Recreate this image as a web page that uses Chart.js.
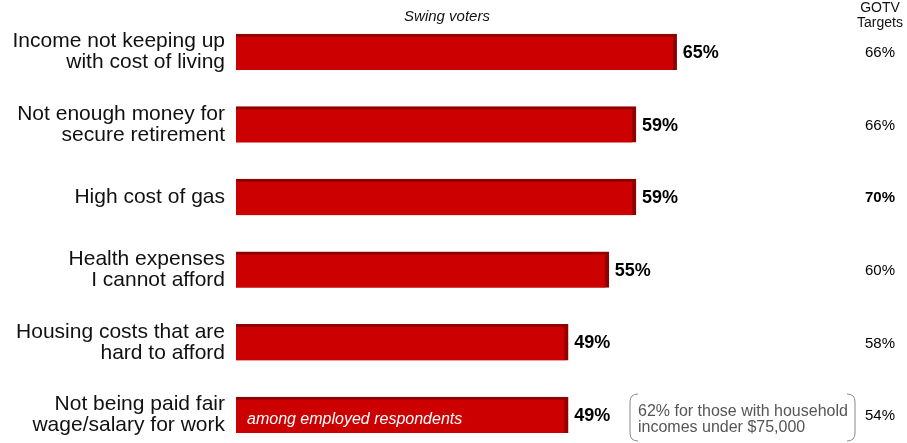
<!DOCTYPE html>
<html>
<head>
<meta charset="utf-8">
<script src="https://cdn.jsdelivr.net/npm/chart.js@4"></script>
<style>
  html, body { margin: 0; padding: 0; background: #fff; }
  #wrap { width: 907px; height: 443px; position: relative; }
</style>
</head>
<body>
<div id="wrap"><canvas id="worriesChart"></canvas></div>
<script>
// Dados do gráfico
const categories = [
  ['Income not keeping up', 'with cost of living'],
  ['Not enough money for', 'secure retirement'],
  'High cost of gas',
  ['Health expenses', 'I cannot afford'],
  ['Housing costs that are', 'hard to afford'],
  ['Not being paid fair', 'wage/salary for work']
];
const swingValues = [65, 59, 59, 55, 49, 49];
const gotvValues = [66, 66, 70, 60, 58, 54];
const gotvBold = [false, false, true, false, false, false];
const barNotes = ['', '', '', '', '', 'among employed respondents'];
const sideNote = ['62% for those with household', 'incomes under $75,000'];

const FONT = '"Liberation Sans", Arial, sans-serif';

// Textos extras: cabeçalhos, valores, coluna GOTV, nota lateral
const annotations = {
  id: 'annotations',
  afterDatasetsDraw(chart) {
    const ctx = chart.ctx;
    const bars = chart.getDatasetMeta(0).data;
    ctx.save();

    // cabeçalhos
    ctx.fillStyle = '#111';
    ctx.textAlign = 'center';
    ctx.textBaseline = 'middle';
    ctx.font = 'italic 15px ' + FONT;
    ctx.fillText('Swing voters', 447, 17);
    ctx.font = '14px ' + FONT;
    ctx.fillText('GOTV', 880, 8);
    ctx.fillText('Targets', 880, 23);

    bars.forEach((bar, i) => {
      // valor ao lado da barra
      ctx.textAlign = 'left';
      ctx.fillStyle = '#000';
      ctx.font = 'bold 18px ' + FONT;
      ctx.fillText(swingValues[i] + '%', bar.x + 6, bar.y + 1);

      // coluna GOTV
      ctx.textAlign = 'center';
      ctx.font = (gotvBold[i] ? 'bold ' : '') + '15px ' + FONT;
      ctx.fillText(gotvValues[i] + '%', 880, bar.y + 1);

      // nota dentro da barra
      if (barNotes[i]) {
        ctx.textAlign = 'left';
        ctx.fillStyle = '#fff';
        ctx.font = 'italic 16px ' + FONT;
        ctx.fillText(barNotes[i], bar.base + 11, bar.y + 5);
      }
    });

    // nota lateral com colchetes arredondados
    const last = bars[bars.length - 1];
    const top = last.y - 21, bottom = last.y + 26;
    const left = 630, right = 855, r = 8;
    ctx.strokeStyle = '#888';
    ctx.lineWidth = 1;
    ctx.beginPath();
    ctx.moveTo(left + r, top);
    ctx.quadraticCurveTo(left, top, left, top + r);
    ctx.lineTo(left, bottom - r);
    ctx.quadraticCurveTo(left, bottom, left + r, bottom);
    ctx.moveTo(right - r, top);
    ctx.quadraticCurveTo(right, top, right, top + r);
    ctx.lineTo(right, bottom - r);
    ctx.quadraticCurveTo(right, bottom, right - r, bottom);
    ctx.stroke();

    ctx.fillStyle = '#555';
    ctx.textAlign = 'left';
    ctx.font = '16px ' + FONT;
    ctx.fillText(sideNote[0], 638, last.y - 3);
    ctx.fillText(sideNote[1], 638, last.y + 13);

    ctx.restore();
  }
};

const ctx = document.getElementById('worriesChart').getContext('2d');
const worriesChart = new Chart(ctx, {
  type: 'bar',
  data: {
    labels: categories,
    datasets: [{
      data: swingValues,
      backgroundColor: '#cc0000',
      borderColor: '#8f0000',
      borderWidth: { top: 3, right: 4, bottom: 0, left: 0 },
      borderSkipped: false,
      barThickness: 36,
      clip: false
    }]
  },
  options: {
    indexAxis: 'y',
    responsive: true,
    maintainAspectRatio: false,
    animation: false,
    layout: {
      padding: { top: 52, bottom: 28, left: 0, right: 27 }
    },
    plugins: {
      legend: { display: false },
      tooltip: { enabled: false }
    },
    scales: {
      x: {
        display: false,
        min: 0,
        max: 95
      },
      y: {
        offset: false,
        grid: { display: false, drawTicks: false },
        border: { display: false },
        ticks: {
          color: '#111',
          padding: 11,
          font: { family: FONT, size: 21, lineHeight: 1.0 }
        },
        afterFit(scale) {
          scale.width = 236;
          scale.paddingTop = 0;
          scale.paddingBottom = 0;
        }
      }
    }
  },
  plugins: [annotations]
});
</script>
</body>
</html>
